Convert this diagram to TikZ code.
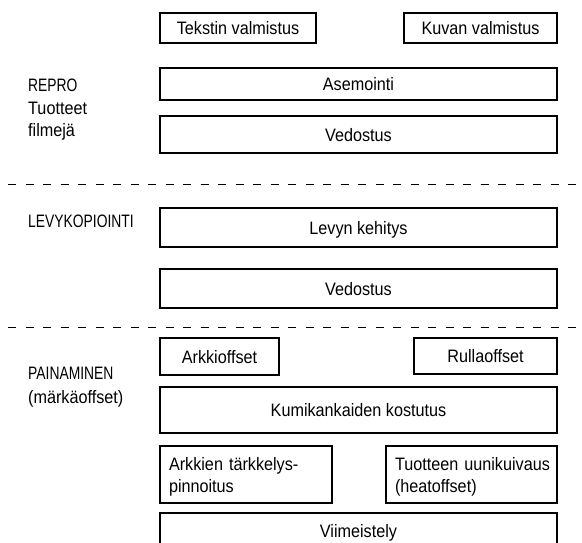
\documentclass[tikz,border=0pt]{standalone}
\usepackage{fontspec}
\setmainfont{Liberation Sans}[FakeStretch=0.9]
\newfontfamily\capsfont{Liberation Sans}[FakeStretch=0.77]
\tikzset{
  box/.style={draw, line width=1.1pt, inner sep=0pt, text height=13pt, text depth=0pt,
    font=\fontsize{18}{22}\selectfont},
  twoline/.style={box, align=left, inner xsep=9pt, text height=13pt, text depth=22pt},
  lab/.style={anchor=base west, inner sep=0pt, font=\fontsize{18}{22}\selectfont},
  sepline/.style={line width=1pt, dash pattern=on 8pt off 9.5pt}
}
\begin{document}
\begin{tikzpicture}[x=1pt,y=-1pt]
\useasboundingbox (0,0) rectangle (582,542);
% REPRO
\node[box, minimum width=156pt, minimum height=30pt] (tekstin) at (238,28) {Tekstin valmistus};
\node[box, minimum width=153pt, minimum height=30pt] (kuvan) at (480.5,28) {Kuvan valmistus};
\node[box, minimum width=397pt, minimum height=32pt] (asem) at (358.5,84) {Asemointi};
\node[box, minimum width=397pt, minimum height=37pt] (vedos1) at (358.5,134.5) {Vedostus};
\node[lab] (repro) at (28,91) {\capsfont REPRO};
\node[lab] (tuot) at (28,114) {Tuotteet};
\node[lab] (film) at (28,136) {filmejä};
% separator 1
\coordinate (d1a) at (8,184);
\coordinate (d1b) at (582,184);
\draw[sepline] (d1a) -- (d1b);
% LEVYKOPIOINTI
\node[lab] (levy) at (28,227) {\capsfont LEVYKOPIOINTI};
\node[box, minimum width=397pt, minimum height=39pt] (levyn) at (358.5,227.5) {Levyn kehitys};
\node[box, minimum width=397pt, minimum height=39pt] (vedos2) at (358.5,288.5) {Vedostus};
% separator 2
\coordinate (d2a) at (8,327);
\coordinate (d2b) at (582,327);
\draw[sepline] (d2a) -- (d2b);
% PAINAMINEN
\node[lab] (pain) at (28,379) {\capsfont PAINAMINEN};
\node[lab] (mark) at (28,403) {(märkäoffset)};
\node[box, minimum width=119pt, minimum height=37pt] (arkki) at (219.5,356.5) {Arkkioffset};
\node[box, minimum width=143pt, minimum height=36pt] (rulla) at (485.5,356) {Rullaoffset};
\node[box, minimum width=397pt, minimum height=46pt] (kumi) at (358.5,410) {Kumikankaiden kostutus};
\node[twoline, text width=154pt, minimum height=57pt] (tark) at (246,474.5) {\mbox{Arkkien tärkkelys-}\\\mbox{pinnoitus}};
\node[twoline, text width=153pt, minimum height=57pt] (uuni) at (471.5,474.5) {\mbox{Tuotteen uunikuivaus}\\\mbox{(heatoffset)}};
\node[box, minimum width=397pt, minimum height=36pt] (viim) at (358.5,531) {Viimeistely};
\end{tikzpicture}
\end{document}
